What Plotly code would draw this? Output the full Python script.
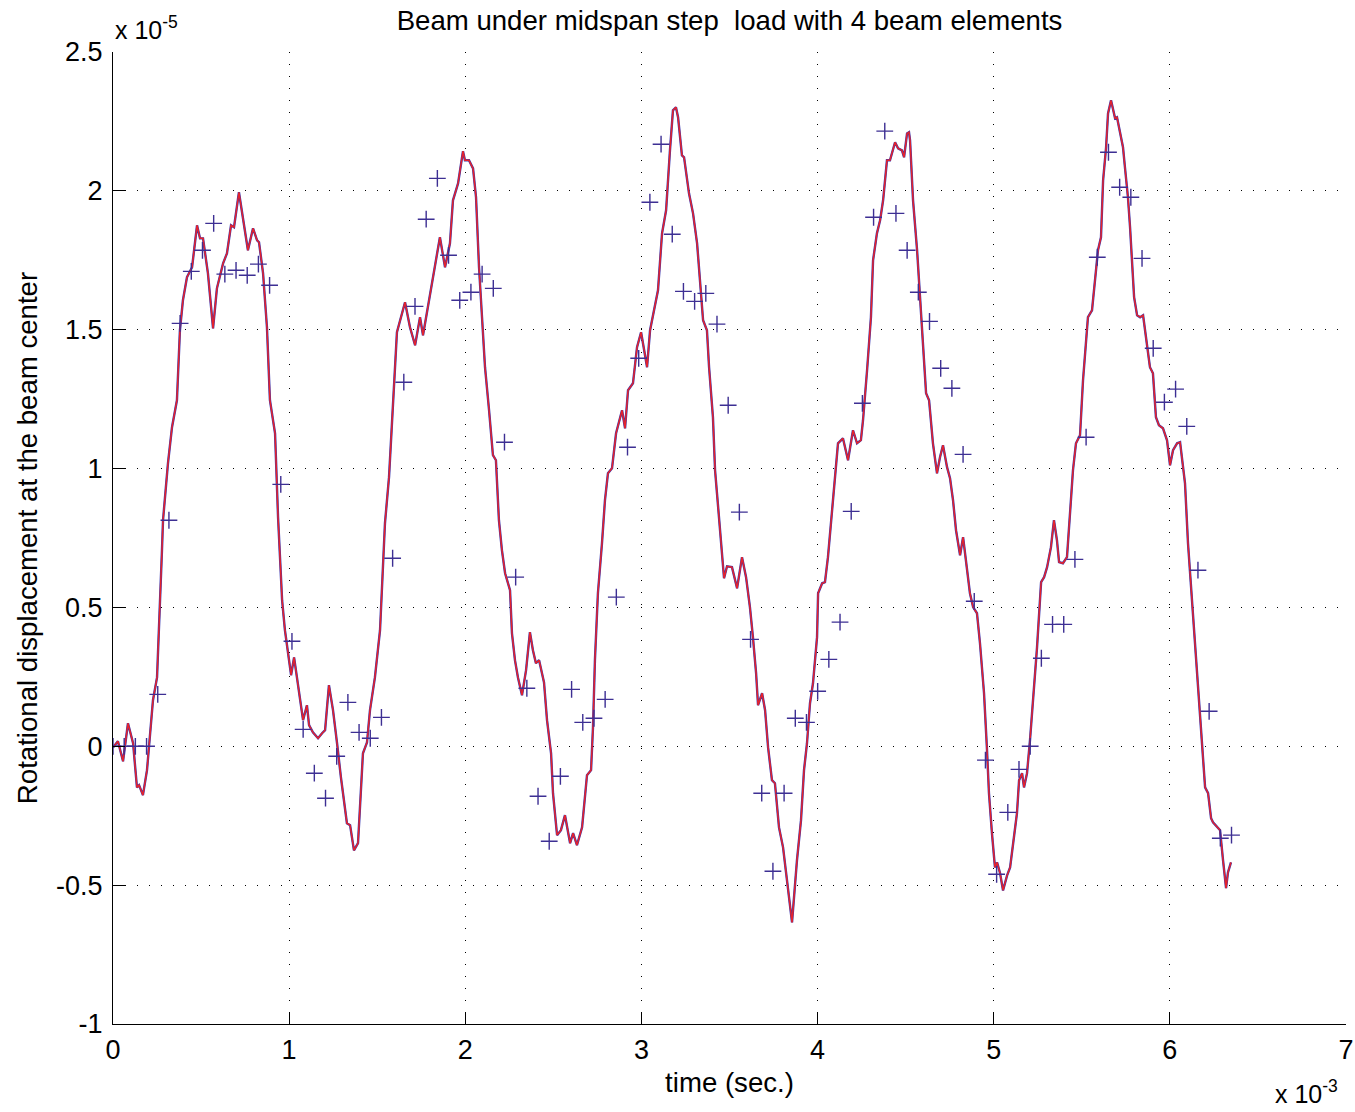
import plotly.graph_objects as go

# ---- data (time in units of 1e-3 s, rotation in units of 1e-5 rad) ----
t_line = [
    0.000, 0.028, 0.057, 0.085, 0.114, 0.136, 0.148, 0.170, 0.193, 0.210,
    0.227, 0.250, 0.261, 0.278, 0.284, 0.312, 0.335, 0.363, 0.380, 0.397,
    0.420, 0.449, 0.477, 0.494, 0.511, 0.539, 0.568, 0.590, 0.625, 0.647,
    0.670, 0.687, 0.715, 0.738, 0.766, 0.795, 0.818, 0.829, 0.852, 0.874,
    0.891, 0.920, 0.937, 0.960, 0.976, 0.994, 1.011, 1.028, 1.045, 1.062,
    1.079, 1.101, 1.113, 1.135, 1.164, 1.187, 1.204, 1.226, 1.249, 1.272,
    1.294, 1.328, 1.346, 1.368, 1.391, 1.419, 1.442, 1.459, 1.487, 1.516,
    1.544, 1.567, 1.590, 1.612, 1.658, 1.686, 1.715, 1.743, 1.760, 1.788,
    1.817, 1.856, 1.885, 1.913, 1.930, 1.959, 1.987, 1.998, 2.021, 2.044,
    2.061, 2.078, 2.095, 2.112, 2.135, 2.157, 2.174, 2.191, 2.208, 2.226,
    2.254, 2.265, 2.282, 2.299, 2.322, 2.345, 2.367, 2.384, 2.401, 2.419,
    2.447, 2.464, 2.487, 2.498, 2.521, 2.543, 2.566, 2.595, 2.612, 2.634,
    2.663, 2.680, 2.691, 2.714, 2.725, 2.736, 2.753, 2.776, 2.793, 2.810,
    2.833, 2.856, 2.890, 2.907, 2.924, 2.952, 2.975, 2.998, 3.032, 3.049,
    3.077, 3.094, 3.117, 3.140, 3.162, 3.179, 3.196, 3.208, 3.230, 3.242,
    3.270, 3.293, 3.316, 3.333, 3.350, 3.372, 3.384, 3.406, 3.418, 3.429,
    3.446, 3.469, 3.486, 3.514, 3.543, 3.571, 3.594, 3.616, 3.633, 3.651,
    3.662, 3.685, 3.702, 3.719, 3.741, 3.758, 3.781, 3.804, 3.821, 3.832,
    3.855, 3.883, 3.906, 3.923, 3.940, 3.957, 3.974, 3.997, 4.003, 4.026,
    4.042, 4.059, 4.082, 4.099, 4.116, 4.144, 4.173, 4.201, 4.224, 4.246,
    4.258, 4.281, 4.303, 4.315, 4.337, 4.355, 4.372, 4.394, 4.411, 4.440,
    4.457, 4.479, 4.491, 4.508, 4.519, 4.525, 4.542, 4.565, 4.582, 4.599,
    4.616, 4.633, 4.655, 4.678, 4.695, 4.712, 4.735, 4.752, 4.769, 4.786,
    4.809, 4.826, 4.848, 4.865, 4.883, 4.905, 4.922, 4.945, 4.962, 4.973,
    4.990, 5.007, 5.019, 5.036, 5.053, 5.076, 5.093, 5.110, 5.132, 5.144,
    5.161, 5.172, 5.189, 5.206, 5.223, 5.246, 5.269, 5.286, 5.303, 5.325,
    5.342, 5.359, 5.371, 5.393, 5.416, 5.433, 5.450, 5.467, 5.490, 5.507,
    5.524, 5.535, 5.558, 5.575, 5.592, 5.609, 5.621, 5.638, 5.649, 5.666,
    5.677, 5.689, 5.700, 5.717, 5.734, 5.745, 5.762, 5.774, 5.785, 5.797,
    5.814, 5.831, 5.848, 5.870, 5.887, 5.904, 5.921, 5.938, 5.961, 5.984,
    6.001, 6.018, 6.041, 6.058, 6.075, 6.086, 6.103, 6.126, 6.154, 6.177,
    6.200, 6.217, 6.234, 6.245, 6.268, 6.285, 6.302, 6.319, 6.330, 6.347,
]
y_line = [
    -0.004, 0.018, -0.054, 0.083, 0.011, -0.148, -0.140, -0.176, -0.086, 0.047,
    0.166, 0.248, 0.407, 0.706, 0.814, 1.019, 1.149, 1.246, 1.498, 1.606,
    1.689, 1.725, 1.876, 1.829, 1.829, 1.703, 1.505, 1.649, 1.739, 1.775,
    1.876, 1.869, 1.995, 1.901, 1.786, 1.865, 1.822, 1.815, 1.703, 1.509,
    1.246, 1.127, 0.825, 0.526, 0.418, 0.335, 0.256, 0.320, 0.248, 0.166,
    0.094, 0.148, 0.076, 0.050, 0.029, 0.047, 0.058, 0.220, 0.130, 0.011,
    -0.112, -0.277, -0.284, -0.375, -0.349, -0.025, 0.014, 0.130, 0.248, 0.418,
    0.803, 0.969, 1.246, 1.491, 1.599, 1.509, 1.444, 1.545, 1.480, 1.581,
    1.678, 1.833, 1.725, 1.811, 1.966, 2.027, 2.143, 2.110, 2.110, 2.081,
    1.977, 1.725, 1.545, 1.365, 1.210, 1.048, 1.030, 0.814, 0.706, 0.623,
    0.562, 0.407, 0.310, 0.248, 0.184, 0.274, 0.411, 0.346, 0.299, 0.310,
    0.230, 0.094, -0.025, -0.169, -0.320, -0.302, -0.248, -0.349, -0.313, -0.356,
    -0.292, -0.184, -0.104, -0.086, 0.068, 0.310, 0.551, 0.731, 0.886, 0.983,
    1.001, 1.127, 1.210, 1.145, 1.282, 1.307, 1.437, 1.491, 1.365, 1.498,
    1.595, 1.642, 1.847, 1.930, 2.146, 2.290, 2.301, 2.265, 2.128, 2.121,
    1.991, 1.919, 1.811, 1.653, 1.534, 1.498, 1.365, 1.185, 0.994, 0.911,
    0.789, 0.605, 0.648, 0.645, 0.569, 0.681, 0.609, 0.501, 0.393, 0.263,
    0.148, 0.191, 0.130, -0.004, -0.122, -0.133, -0.292, -0.364, -0.454, -0.519,
    -0.634, -0.411, -0.266, -0.086, 0.011, 0.155, 0.227, 0.393, 0.551, 0.587,
    0.591, 0.681, 0.839, 0.958, 1.091, 1.109, 1.030, 1.138, 1.091, 1.102,
    1.174, 1.354, 1.545, 1.750, 1.847, 1.894, 1.966, 2.110, 2.110, 2.175,
    2.153, 2.146, 2.121, 2.207, 2.211, 2.182, 1.966, 1.786, 1.606, 1.415,
    1.271, 1.246, 1.091, 0.983, 1.041, 1.084, 1.005, 0.965, 0.886, 0.778,
    0.688, 0.753, 0.645, 0.551, 0.501, 0.479, 0.371, 0.191, -0.014, -0.169,
    -0.313, -0.436, -0.418, -0.457, -0.519, -0.465, -0.436, -0.349, -0.241, -0.122,
    -0.097, -0.148, -0.097, 0.022, 0.166, 0.357, 0.591, 0.609, 0.645, 0.717,
    0.814, 0.742, 0.663, 0.659, 0.681, 0.839, 0.994, 1.091, 1.120, 1.318,
    1.462, 1.545, 1.570, 1.678, 1.786, 1.833, 2.038, 2.157, 2.279, 2.326,
    2.290, 2.261, 2.265, 2.207, 2.157, 2.085, 1.977, 1.869, 1.739, 1.617,
    1.552, 1.545, 1.552, 1.437, 1.365, 1.343, 1.185, 1.156, 1.145, 1.102,
    1.012, 1.066, 1.091, 1.095, 0.994, 0.947, 0.731, 0.515, 0.248, 0.032,
    -0.148, -0.169, -0.259, -0.274, -0.292, -0.302, -0.411, -0.511, -0.454, -0.418,
]

# sampled points (+ markers), one every 0.0635e-3 s
sample_step = 0.0635
y_samples = [
    0.000, 0.000, 0.000, 0.000, 0.187, 0.814, 1.523, 1.710, 1.786, 1.883,
    1.700, 1.714, 1.696, 1.736, 1.660, 0.943, 0.378, 0.061, -0.097, -0.187,
    -0.036, 0.158, 0.050, 0.029, 0.104, 0.677, 1.311, 1.584, 1.898, 2.045,
    1.768, 1.606, 1.635, 1.700, 1.649, 1.095, 0.609, 0.209, -0.180, -0.342,
    -0.108, 0.205, 0.086, 0.101, 0.169, 0.537, 1.077, 1.397, 1.959, 2.168,
    1.844, 1.638, 1.602, 1.631, 1.520, 1.228, 0.843, 0.385, -0.169, -0.450,
    -0.169, 0.101, 0.086, 0.198, 0.313, 0.447, 0.846, 1.235, 1.905, 2.215,
    1.919, 1.786, 1.635, 1.530, 1.361, 1.289, 1.051, 0.522, -0.050, -0.461,
    -0.238, -0.083, 0.000, 0.317, 0.439, 0.439, 0.673, 1.113, 1.761, 2.139,
    2.013, 1.977, 1.757, 1.433, 1.239, 1.286, 1.152, 0.634, 0.126, -0.331,
    -0.320,
]
t_samples = [round(k * sample_step, 4) for k in range(len(y_samples))]

x_ticks = [0, 1, 2, 3, 4, 5, 6, 7]
y_ticks = [-1, -0.5, 0, 0.5, 1, 1.5, 2, 2.5]
y_tick_text = ["-1", "-0.5", "0", "0.5", "1", "1.5", "2", "2.5"]

FONT = "Liberation Sans, Arial, Helvetica, sans-serif"
FS_TICK = 27
FS_TITLE = 27.6
FS_EXP = 25

fig = go.Figure()
fig.add_trace(go.Scatter(x=t_line, y=y_line, mode="lines",
                         line=dict(color="#3a3ab0", width=2.4), showlegend=False))
fig.add_trace(go.Scatter(x=t_line, y=y_line, mode="lines",
                         line=dict(color="#e4222c", width=1.5), showlegend=False))
fig.add_trace(go.Scatter(x=t_samples, y=y_samples, mode="markers",
                         marker=dict(symbol="cross-thin", size=12, color="#3d2f93",
                                     line=dict(color="#3d2f93", width=1.4)),
                         showlegend=False))

axis_common = dict(
    showline=True, linecolor="black", linewidth=1,
    ticks="inside", ticklen=12, tickwidth=1, tickcolor="black",
    showgrid=True, gridcolor="black", gridwidth=1, griddash="1px,11px",
    zeroline=False, mirror=False, automargin=False,
    tickfont=dict(family=FONT, size=FS_TICK, color="black"),
)

fig.update_xaxes(range=[0, 7], tickvals=x_ticks, ticktext=[str(v) for v in x_ticks],
                 ticklabelstandoff=2,
                 title=dict(text="time (sec.)", font=dict(family=FONT, size=FS_TITLE, color="black"),
                            standoff=8),
                 **axis_common)
fig.update_yaxes(range=[-1, 2.5], tickvals=y_ticks, ticktext=y_tick_text,
                 ticklabelstandoff=4,
                 title=dict(text="Rotational displacement at the beam center",
                            font=dict(family=FONT, size=FS_TITLE, color="black"), standoff=10),
                 **axis_common)

fig.add_annotation(text="x 10<sup>-5</sup>", xref="paper", yref="paper", x=0.0, y=1.006,
                   xanchor="left", yanchor="bottom", showarrow=False,
                   font=dict(family=FONT, size=FS_EXP, color="black"))
fig.add_annotation(text="x 10<sup>-3</sup>", xref="paper", yref="paper", x=0.9408, y=-0.088,
                   xanchor="left", yanchor="bottom", showarrow=False,
                   font=dict(family=FONT, size=FS_EXP, color="black"))

fig.update_layout(
    width=1355, height=1112, autosize=False,
    margin=dict(l=113, r=9, t=52, b=88),
    paper_bgcolor="white", plot_bgcolor="white",
    title=dict(text="Beam under midspan step  load with 4 beam elements",
               x=0.5, xref="paper", xanchor="center",
               y=0.982, yref="container", yanchor="middle",
               font=dict(family=FONT, size=FS_TITLE, color="black")),
    font=dict(family=FONT, size=FS_TICK, color="black"),
)

fig.write_html("out.html",
               config={"responsive": False, "displayModeBar": False},
               post_script="document.body.style.margin='0px';document.body.style.overflow='hidden';")
